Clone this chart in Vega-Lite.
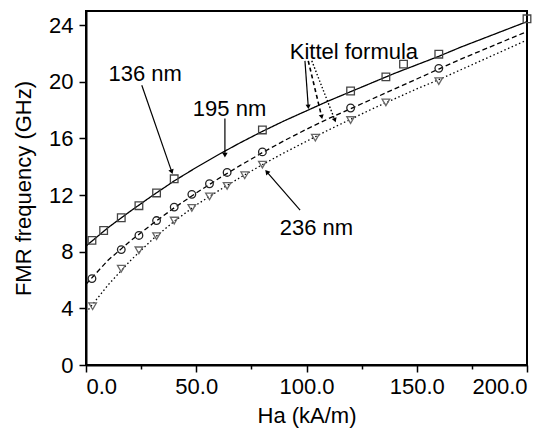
{
  "$schema": "https://vega.github.io/schema/vega-lite/v6.json",
  "width": 441,
  "height": 354,
  "autosize": {"type": "none"},
  "padding": {"left": 86, "top": 11, "right": 29, "bottom": 69},
  "background": "white",
  "config": {
    "font": "Liberation Sans",
    "view": {"stroke": "black", "strokeWidth": 2},
    "axis": {
      "grid": false,
      "domainColor": "black",
      "domainWidth": 2,
      "tickColor": "black",
      "tickWidth": 1.5,
      "labelColor": "black",
      "titleColor": "black",
      "labelFontSize": 22,
      "titleFontSize": 22,
      "titleFontWeight": "normal",
      "labelFont": "Liberation Sans",
      "titleFont": "Liberation Sans",
      "labelOverlap": false
    }
  },
  "datasets": {
    "curves": [
      {"series": "136 nm", "H": 0, "f": 8.4},
      {"series": "136 nm", "H": 10, "f": 9.7},
      {"series": "136 nm", "H": 20, "f": 10.85},
      {"series": "136 nm", "H": 30, "f": 11.95},
      {"series": "136 nm", "H": 40, "f": 13.0},
      {"series": "136 nm", "H": 50, "f": 13.95},
      {"series": "136 nm", "H": 60, "f": 14.85},
      {"series": "136 nm", "H": 70, "f": 15.7},
      {"series": "136 nm", "H": 80, "f": 16.5},
      {"series": "136 nm", "H": 90, "f": 17.25},
      {"series": "136 nm", "H": 100, "f": 17.95},
      {"series": "136 nm", "H": 110, "f": 18.65},
      {"series": "136 nm", "H": 120, "f": 19.3},
      {"series": "136 nm", "H": 130, "f": 19.95},
      {"series": "136 nm", "H": 140, "f": 20.6},
      {"series": "136 nm", "H": 150, "f": 21.2},
      {"series": "136 nm", "H": 160, "f": 21.8},
      {"series": "136 nm", "H": 170, "f": 22.45},
      {"series": "136 nm", "H": 180, "f": 23.05},
      {"series": "136 nm", "H": 190, "f": 23.65},
      {"series": "136 nm", "H": 200, "f": 24.25},
      {"series": "195 nm", "H": 0, "f": 5.7},
      {"series": "195 nm", "H": 10, "f": 7.4},
      {"series": "195 nm", "H": 20, "f": 8.75},
      {"series": "195 nm", "H": 30, "f": 9.95},
      {"series": "195 nm", "H": 40, "f": 11.1},
      {"series": "195 nm", "H": 50, "f": 12.15},
      {"series": "195 nm", "H": 60, "f": 13.15},
      {"series": "195 nm", "H": 70, "f": 14.1},
      {"series": "195 nm", "H": 80, "f": 15.0},
      {"series": "195 nm", "H": 90, "f": 15.85},
      {"series": "195 nm", "H": 100, "f": 16.65},
      {"series": "195 nm", "H": 110, "f": 17.4},
      {"series": "195 nm", "H": 120, "f": 18.1},
      {"series": "195 nm", "H": 130, "f": 18.8},
      {"series": "195 nm", "H": 140, "f": 19.5},
      {"series": "195 nm", "H": 150, "f": 20.2},
      {"series": "195 nm", "H": 160, "f": 20.9},
      {"series": "195 nm", "H": 170, "f": 21.6},
      {"series": "195 nm", "H": 180, "f": 22.25},
      {"series": "195 nm", "H": 190, "f": 22.9},
      {"series": "195 nm", "H": 200, "f": 23.55},
      {"series": "236 nm", "H": 0, "f": 3.7},
      {"series": "236 nm", "H": 10, "f": 5.65},
      {"series": "236 nm", "H": 20, "f": 7.35},
      {"series": "236 nm", "H": 30, "f": 8.85},
      {"series": "236 nm", "H": 40, "f": 10.15},
      {"series": "236 nm", "H": 50, "f": 11.3},
      {"series": "236 nm", "H": 60, "f": 12.3},
      {"series": "236 nm", "H": 70, "f": 13.25},
      {"series": "236 nm", "H": 80, "f": 14.15},
      {"series": "236 nm", "H": 90, "f": 15.0},
      {"series": "236 nm", "H": 100, "f": 15.8},
      {"series": "236 nm", "H": 110, "f": 16.6},
      {"series": "236 nm", "H": 120, "f": 17.35},
      {"series": "236 nm", "H": 130, "f": 18.1},
      {"series": "236 nm", "H": 140, "f": 18.8},
      {"series": "236 nm", "H": 150, "f": 19.5},
      {"series": "236 nm", "H": 160, "f": 20.15},
      {"series": "236 nm", "H": 170, "f": 20.85},
      {"series": "236 nm", "H": 180, "f": 21.55},
      {"series": "236 nm", "H": 190, "f": 22.25},
      {"series": "236 nm", "H": 200, "f": 22.95}
    ],
    "points": [
      {"series": "136 nm", "H": 2.7, "f": 8.8},
      {"series": "136 nm", "H": 8, "f": 9.5},
      {"series": "136 nm", "H": 16, "f": 10.4},
      {"series": "136 nm", "H": 24, "f": 11.25},
      {"series": "136 nm", "H": 32, "f": 12.15},
      {"series": "136 nm", "H": 40, "f": 13.15},
      {"series": "136 nm", "H": 80, "f": 16.6},
      {"series": "136 nm", "H": 120, "f": 19.35},
      {"series": "136 nm", "H": 136, "f": 20.35},
      {"series": "136 nm", "H": 144, "f": 21.25},
      {"series": "136 nm", "H": 160, "f": 21.95},
      {"series": "136 nm", "H": 200, "f": 24.45},
      {"series": "195 nm", "H": 2.7, "f": 6.1},
      {"series": "195 nm", "H": 16, "f": 8.15},
      {"series": "195 nm", "H": 24, "f": 9.15},
      {"series": "195 nm", "H": 32, "f": 10.2},
      {"series": "195 nm", "H": 40, "f": 11.15},
      {"series": "195 nm", "H": 48, "f": 12.05},
      {"series": "195 nm", "H": 56, "f": 12.8},
      {"series": "195 nm", "H": 64, "f": 13.6},
      {"series": "195 nm", "H": 80, "f": 15.05},
      {"series": "195 nm", "H": 120, "f": 18.15},
      {"series": "195 nm", "H": 160, "f": 20.95},
      {"series": "236 nm", "H": 3, "f": 4.15},
      {"series": "236 nm", "H": 16, "f": 6.8},
      {"series": "236 nm", "H": 24, "f": 8.1},
      {"series": "236 nm", "H": 32, "f": 9.1},
      {"series": "236 nm", "H": 40, "f": 10.2},
      {"series": "236 nm", "H": 48, "f": 11.1},
      {"series": "236 nm", "H": 56, "f": 11.9},
      {"series": "236 nm", "H": 64, "f": 12.65},
      {"series": "236 nm", "H": 72, "f": 13.4},
      {"series": "236 nm", "H": 80, "f": 14.15},
      {"series": "236 nm", "H": 104, "f": 16.05},
      {"series": "236 nm", "H": 120, "f": 17.3},
      {"series": "236 nm", "H": 136, "f": 18.55},
      {"series": "236 nm", "H": 160, "f": 20.05}
    ],
    "labels": [
      {"label": "136 nm", "H": 26.8, "f": 20.57},
      {"label": "195 nm", "H": 65.1, "f": 18.07},
      {"label": "Kittel formula", "H": 121.5, "f": 22.11},
      {"label": "236 nm", "H": 104.5, "f": 9.67}
    ],
    "arrows": [
      {"arrow": "136 nm", "H": 25.3, "f": 19.76, "H2": 38.9, "f2": 13.64},
      {"arrow": "195 nm", "H": 63.0, "f": 17.41, "H2": 63.0, "f2": 14.82},
      {"arrow": "236 nm", "H": 97.1, "f": 10.94, "H2": 82.0, "f2": 13.64},
      {"arrow": "Kittel 136", "H": 99.3, "f": 21.48, "H2": 100.8, "f2": 18.23},
      {"arrow": "Kittel 195", "H": 100.8, "f": 21.48, "H2": 106.9, "f2": 17.52},
      {"arrow": "Kittel 236", "H": 102.4, "f": 21.48, "H2": 112.9, "f2": 17.29}
    ]
  },
  "layer": [
    {
      "data": {"name": "curves"},
      "mark": {"type": "line", "color": "black", "strokeWidth": 1.3},
      "encoding": {
        "x": {
          "field": "H", "type": "quantitative",
          "scale": {"domain": [0, 200], "nice": false, "zero": false},
          "axis": {
            "title": "Ha (kA/m)",
            "values": [0, 25, 50, 75, 100, 125, 150, 175, 200],
            "labelExpr": "datum.value % 50 === 0 ? format(datum.value, '.1f') : ''",
            "tickSize": {"condition": {"test": "datum.value % 50 !== 0", "value": 4}, "value": 7},
            "labelPadding": 4,
            "titlePadding": 8
          }
        },
        "y": {
          "field": "f", "type": "quantitative",
          "scale": {"domain": [0, 25], "nice": false, "zero": false},
          "axis": {
            "title": "FMR frequency (GHz)",
            "values": [0,1,2,3,4,5,6,7,8,9,10,11,12,13,14,15,16,17,18,19,20,21,22,23,24],
            "labelExpr": "datum.value % 4 === 0 ? format(datum.value, 'd') : ''",
            "tickSize": {"condition": {"test": "datum.value % 4 !== 0", "value": 4}, "value": 7},
            "labelPadding": 6,
            "titlePadding": 13
          }
        },
        "detail": {"field": "series"},
        "strokeDash": {
          "field": "series", "type": "nominal",
          "scale": {"domain": ["136 nm", "195 nm", "236 nm"], "range": [[1, 0], [5, 3], [1.5, 2.5]]},
          "legend": null
        }
      }
    },
    {
      "data": {"name": "points"},
      "mark": {"type": "point", "filled": false, "strokeWidth": 1.3, "size": 58, "opacity": 1},
      "encoding": {
        "x": {"field": "H", "type": "quantitative"},
        "y": {"field": "f", "type": "quantitative"},
        "shape": {
          "field": "series", "type": "nominal",
          "scale": {"domain": ["136 nm", "195 nm", "236 nm"], "range": ["square", "circle", "triangle-down"]},
          "legend": null
        },
        "color": {
          "field": "series", "type": "nominal",
          "scale": {"domain": ["136 nm", "195 nm", "236 nm"], "range": ["#444444", "#222222", "#666666"]},
          "legend": null
        }
      }
    },
    {
      "data": {"name": "arrows"},
      "transform": [{"filter": "datum.arrow !== 'Kittel 195' && datum.arrow !== 'Kittel 236'"}],
      "mark": {"type": "rule", "color": "black", "strokeWidth": 1.2},
      "encoding": {
        "x": {"field": "H", "type": "quantitative"},
        "y": {"field": "f", "type": "quantitative"},
        "x2": {"field": "H2"},
        "y2": {"field": "f2"}
      }
    },
    {
      "data": {"name": "arrows"},
      "transform": [{"filter": "datum.arrow === 'Kittel 195'"}],
      "mark": {"type": "rule", "color": "black", "strokeWidth": 1.6, "strokeDash": [4, 3]},
      "encoding": {
        "x": {"field": "H", "type": "quantitative"},
        "y": {"field": "f", "type": "quantitative"},
        "x2": {"field": "H2"},
        "y2": {"field": "f2"}
      }
    },
    {
      "data": {"name": "arrows"},
      "transform": [{"filter": "datum.arrow === 'Kittel 236'"}],
      "mark": {"type": "rule", "color": "black", "strokeWidth": 1.4, "strokeDash": [1.5, 2]},
      "encoding": {
        "x": {"field": "H", "type": "quantitative"},
        "y": {"field": "f", "type": "quantitative"},
        "x2": {"field": "H2"},
        "y2": {"field": "f2"}
      }
    },
    {
      "data": {"name": "arrows"},
      "transform": [{"filter": "datum.arrow === '136 nm'"}],
      "mark": {"type": "point", "shape": "triangle-down", "filled": true, "color": "black", "size": 30, "angle": 341, "opacity": 1},
      "encoding": {"x": {"field": "H2", "type": "quantitative"}, "y": {"field": "f2", "type": "quantitative"}}
    },
    {
      "data": {"name": "arrows"},
      "transform": [{"filter": "datum.arrow === '195 nm'"}],
      "mark": {"type": "point", "shape": "triangle-down", "filled": true, "color": "black", "size": 30, "angle": 0, "opacity": 1},
      "encoding": {"x": {"field": "H2", "type": "quantitative"}, "y": {"field": "f2", "type": "quantitative"}}
    },
    {
      "data": {"name": "arrows"},
      "transform": [{"filter": "datum.arrow === '236 nm'"}],
      "mark": {"type": "point", "shape": "triangle-down", "filled": true, "color": "black", "size": 30, "angle": 139, "opacity": 1},
      "encoding": {"x": {"field": "H2", "type": "quantitative"}, "y": {"field": "f2", "type": "quantitative"}}
    },
    {
      "data": {"name": "arrows"},
      "transform": [{"filter": "datum.arrow === 'Kittel 136'"}],
      "mark": {"type": "point", "shape": "triangle-down", "filled": true, "color": "black", "size": 26, "angle": 356, "opacity": 1},
      "encoding": {"x": {"field": "H2", "type": "quantitative"}, "y": {"field": "f2", "type": "quantitative"}}
    },
    {
      "data": {"name": "arrows"},
      "transform": [{"filter": "datum.arrow === 'Kittel 195'"}],
      "mark": {"type": "point", "shape": "triangle-down", "filled": true, "color": "black", "size": 26, "angle": 347, "opacity": 1},
      "encoding": {"x": {"field": "H2", "type": "quantitative"}, "y": {"field": "f2", "type": "quantitative"}}
    },
    {
      "data": {"name": "arrows"},
      "transform": [{"filter": "datum.arrow === 'Kittel 236'"}],
      "mark": {"type": "point", "shape": "triangle-down", "filled": true, "color": "black", "size": 26, "angle": 339, "opacity": 1},
      "encoding": {"x": {"field": "H2", "type": "quantitative"}, "y": {"field": "f2", "type": "quantitative"}}
    },
    {
      "data": {"name": "labels"},
      "mark": {"type": "text", "fontSize": 22, "font": "Liberation Sans", "color": "black", "align": "center", "baseline": "middle"},
      "encoding": {
        "x": {"field": "H", "type": "quantitative"},
        "y": {"field": "f", "type": "quantitative"},
        "text": {"field": "label"}
      }
    }
  ]
}
